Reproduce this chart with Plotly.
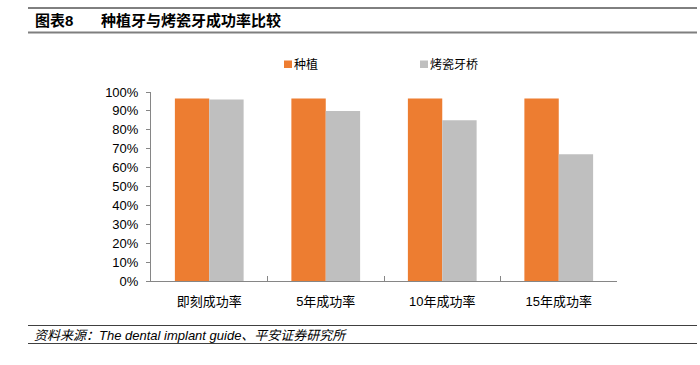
import plotly.graph_objects as go

categories = ["即刻成功率", "5年成功率", "10年成功率", "15年成功率"]
implant = [0.965, 0.965, 0.965, 0.965]
bridge = [0.96, 0.90, 0.85, 0.67]
series_names = ["种植", "烤瓷牙桥"]
colors = ["#ED7D31", "#BFBFBF"]

W, H = 700, 365
L, R, T, B = 151, 83, 92, 84
PW, PH = W - L - R, H - T - B

def px(x):
    return (x - L) / PW

def py(y):
    return (H - B - y) / PH

FONT = "Liberation Sans, Arial, Noto Sans CJK SC, sans-serif"

fig = go.Figure()
fig.add_trace(go.Bar(x=categories, y=implant, name=series_names[0],
                     marker=dict(color=colors[0], line=dict(width=0))))
fig.add_trace(go.Bar(x=categories, y=bridge, name=series_names[1],
                     marker=dict(color=colors[1], line=dict(width=0))))

shapes = []
def hline(y, color, width):
    shapes.append(dict(type="line", xref="paper", yref="paper",
                       x0=px(28), x1=px(697), y0=py(y), y1=py(y),
                       line=dict(color=color, width=width)))
hline(8, "#000000", 1)
hline(32.5, "#7F7F7F", 2)
hline(325.5, "#404040", 1)
hline(343.5, "#404040", 1)

# legend squares
for (x0, c) in [(284, colors[0]), (420, colors[1])]:
    shapes.append(dict(type="rect", xref="paper", yref="paper",
                       x0=px(x0), x1=px(x0 + 8), y0=py(60.5), y1=py(68),
                       fillcolor=c, line=dict(width=0)))

annotations = [
    dict(text="<b>图表8</b>", x=px(33), y=py(20.5), xref="paper", yref="paper",
         xanchor="left", yanchor="middle", showarrow=False,
         font=dict(size=15, color="#000", family=FONT)),
    dict(text="<b>种植牙与烤瓷牙成功率比较</b>", x=px(99), y=py(20.5), xref="paper", yref="paper",
         xanchor="left", yanchor="middle", showarrow=False,
         font=dict(size=15, color="#000", family=FONT)),
    dict(text=series_names[0], x=px(292), y=py(64.5), xref="paper", yref="paper",
         xanchor="left", yanchor="middle", showarrow=False,
         font=dict(size=12, color="#000", family=FONT)),
    dict(text=series_names[1], x=px(428), y=py(64.5), xref="paper", yref="paper",
         xanchor="left", yanchor="middle", showarrow=False,
         font=dict(size=12, color="#000", family=FONT)),
    dict(text="<i>资料来源：The dental implant guide、平安证券研究所</i>", x=px(32), y=py(335),
         xref="paper", yref="paper", xanchor="left", yanchor="middle", showarrow=False,
         font=dict(size=13, color="#000", family=FONT)),
]

fig.update_layout(
    width=W, height=H,
    margin=dict(l=L, r=R, t=T, b=B, pad=0),
    paper_bgcolor="white", plot_bgcolor="white",
    barmode="group", bargap=0.41, bargroupgap=0,
    showlegend=False,
    shapes=shapes, annotations=annotations,
    font=dict(family=FONT, size=13, color="#000"),
    xaxis=dict(type="category", range=[-0.5, 3.5], showline=True, linecolor="#868686",
               linewidth=1, ticks="inside", tickson="boundaries", ticklen=5,
               tickcolor="#868686", showgrid=False, zeroline=False,
               tickfont=dict(size=13, family=FONT, color="#000"), ticklabelstandoff=8),
    yaxis=dict(range=[0, 1.0], dtick=0.1, tickformat=".0%", showline=True,
               linecolor="#868686", linewidth=1, ticks="outside", ticklen=4,
               tickcolor="#868686", showgrid=False, zeroline=False,
               tickfont=dict(size=13, family=FONT, color="#000"), ticklabelstandoff=5),
)

fig.write_html("out.html", config={"displayModeBar": False},
               post_script="document.body.style.margin='0';document.body.style.padding='0';")
